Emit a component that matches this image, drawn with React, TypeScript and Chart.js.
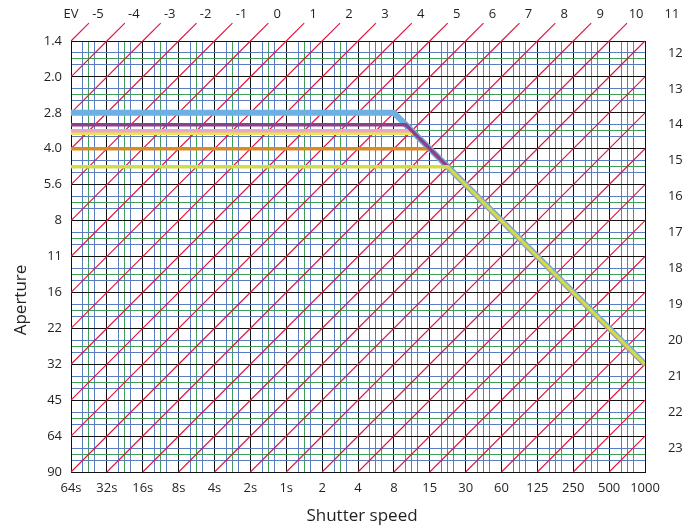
import React, { useEffect, useRef } from "react";
import { Chart, registerables } from "chart.js";

Chart.register(...registerables);

// ---- data ----
// Shutter speed labels, one per full stop (index = stops from 64s)
const shutterLabels = ["64s", "32s", "16s", "8s", "4s", "2s", "1s", "2", "4", "8", "15", "30", "60", "125", "250", "500", "1000"];
// Aperture labels, one per full stop (index = stops from f/1.4)
const apertureLabels = ["1.4", "2.0", "2.8", "4.0", "5.6", "8", "11", "16", "22", "32", "45", "64", "90"];
// EV lines labelled along the top edge and along the right edge
const evTopValues = [-5, -4, -3, -2, -1, 0, 1, 2, 3, 4, 5, 6, 7, 8, 9, 10, 11];
const evRightValues = [12, 13, 14, 15, 16, 17, 18, 19, 20, 21, 22, 23];
// EV at the top-left corner (64s, f/1.4)
const evOrigin = -5;

// Program lines: horizontal aperture (stops from f/1.4), bend shutter (stops from 64s), common end point
const programApertureStops = [2, 2.333, 2.5, 2.575, 3, 3.5];
const programBendShutterStops = [9, 9.333, 9.5, 9.575, 10, 10.5];
const programEndShutterStop = 16; // 1/1000
const programEndApertureStop = 9; // f/32

// ---- styles ----
const programColors = ["#6cb0e4", "#8e3f8c", "#e7a7c8", "#f1e44c", "#d98b26", "#d2dc48"];
const programWidths = [6, 3.5, 3.5, 3, 3.5, 3.5];
const programOrder = [6, 2, 3, 4, 5, 1];
const EV_RED = "#e0143f";

const TEXT = "#231f20";
const FONT = "'Open Sans', 'DejaVu Sans', sans-serif";

const nS = shutterLabels.length - 1;
const nA = apertureLabels.length - 1;

function gridTicks(max: number) {
  const out: { value: number }[] = [];
  for (let i = 0; i <= max; i++) {
    out.push({ value: i });
    if (i < max) {
      out.push({ value: i + 1 / 3 });
      out.push({ value: i + 1 / 2 });
      out.push({ value: i + 2 / 3 });
    }
  }
  return out;
}

function gridColor(v: number) {
  const f = v - Math.floor(v + 1e-6);
  if (Math.abs(f) < 0.01 || Math.abs(f - 1) < 0.01) return "#111111";
  if (Math.abs(f - 0.5) < 0.01) return "#3e9e58";
  return "#5a7dbf";
}

function evLine(ev: number) {
  const k = ev - evOrigin;
  const start = k <= nA ? { x: 0, y: k } : { x: k - nA, y: nA };
  const end = k <= nS ? { x: k, y: 0 } : { x: nS, y: k - nS };
  const stub = { x: end.x + 0.5, y: end.y - 0.5 };
  return [start, end, stub];
}

const labelPlugin = {
  id: "evLabels",
  afterDraw(chart: any) {
    const ctx = chart.ctx;
    const xs = chart.scales.x;
    const ys = chart.scales.y;
    ctx.save();
    ctx.fillStyle = TEXT;
    ctx.font = `13px ${FONT}`;
    ctx.textBaseline = "middle";
    ctx.textAlign = "center";
    ctx.fillText("EV", xs.getPixelForValue(0), 14);
    evTopValues.forEach((ev) => {
      const s = evLine(ev)[2];
      ctx.fillText(String(ev), xs.getPixelForValue(s.x) + 9, 14);
    });
    ctx.textAlign = "left";
    evRightValues.forEach((ev) => {
      const s = evLine(ev)[2];
      ctx.fillText(String(ev), xs.getPixelForValue(s.x) + 5, ys.getPixelForValue(s.y) - 6);
    });
    ctx.font = `17px ${FONT}`;
    ctx.textAlign = "center";
    ctx.fillText("Shutter speed", (chart.chartArea.left + chart.chartArea.right) / 2 + 4, 516);
    ctx.translate(21.5, 300);
    ctx.rotate(-Math.PI / 2);
    ctx.fillText("Aperture", 0, 0);
    ctx.restore();
  },
};

export default function App() {
  const ref = useRef<HTMLCanvasElement | null>(null);
  useEffect(() => {
    if (!ref.current) return;
    const datasets: any[] = [];
    programApertureStops.forEach((a, i) => {
      datasets.push({
        label: "Program " + (i + 1),
        data: [
          { x: 0, y: a },
          { x: programBendShutterStops[i], y: a },
          { x: programEndShutterStop, y: programEndApertureStop },
        ],
        borderColor: programColors[i],
        backgroundColor: programColors[i],
        borderWidth: programWidths[i],
        borderJoinStyle: "miter",
        borderCapStyle: "butt",
        showLine: true,
        pointRadius: 0,
        order: programOrder[i],
      });
    });
    [...evTopValues, ...evRightValues].forEach((ev) => {
      datasets.push({
        label: "EV " + ev,
        data: evLine(ev),
        borderColor: EV_RED,
        backgroundColor: EV_RED,
        borderWidth: 1.1,
        showLine: true,
        pointRadius: 0,
        clip: false,
        order: 20,
      });
    });

    const chart = new Chart(ref.current, {
      type: "scatter",
      data: { datasets },
      options: {
        animation: false,
        responsive: false,
        events: [],
        layout: { padding: { top: 41, right: 50, left: 0, bottom: 0 } },
        plugins: { legend: { display: false }, tooltip: { enabled: false }, colors: { enabled: false } } as any,
        scales: {
          x: {
            type: "linear",
            position: "bottom",
            min: 0,
            max: nS,
            afterBuildTicks: (scale: any) => {
              scale.ticks = gridTicks(nS);
            },
            afterFit: (scale: any) => {
              scale.height = 59;
            },
            ticks: {
              autoSkip: false,
              maxRotation: 0,
              minRotation: 0,
              padding: 8,
              color: TEXT,
              font: { family: FONT, size: 13 },
              callback: (v: any) => {
                const n = Number(v);
                return Math.abs(n - Math.round(n)) < 1e-6 ? shutterLabels[Math.round(n)] : "";
              },
            },
            grid: {
              drawTicks: false,
              lineWidth: 1,
              color: (c: any) => gridColor(c.tick ? c.tick.value : 0),
            },
            border: { display: true, color: "#111111", width: 1 },
          },
          y: {
            type: "linear",
            position: "left",
            reverse: true,
            min: 0,
            max: nA,
            afterBuildTicks: (scale: any) => {
              scale.ticks = gridTicks(nA);
            },
            afterFit: (scale: any) => {
              scale.width = 71;
            },
            ticks: {
              autoSkip: false,
              padding: 9,
              color: TEXT,
              font: { family: FONT, size: 13 },
              callback: (v: any) => {
                const n = Number(v);
                return Math.abs(n - Math.round(n)) < 1e-6 ? apertureLabels[Math.round(n)] : "";
              },
            },
            grid: {
              drawTicks: false,
              lineWidth: 1,
              color: (c: any) => gridColor(c.tick ? c.tick.value : 0),
            },
            border: { display: true, color: "#111111", width: 1 },
          },
        },
      },
      plugins: [labelPlugin],
    });
    return () => chart.destroy();
  }, []);

  return (
    <div style={{ position: "absolute", left: 0, top: 0, width: 695, height: 531, background: "#fff" }}>
      <canvas ref={ref} width={695} height={531} style={{ display: "block" }} />
    </div>
  );
}
